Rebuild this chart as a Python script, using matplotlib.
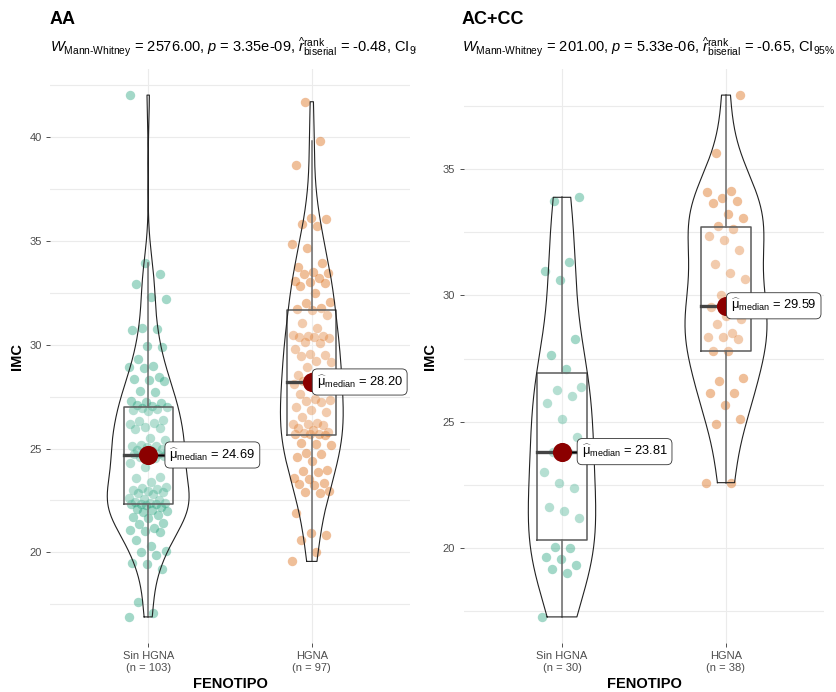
import numpy as np
import matplotlib
matplotlib.use('Agg')
import matplotlib.pyplot as plt
from matplotlib.transforms import Bbox, TransformedBbox

plt.rcParams['font.family'] = ['Liberation Sans', 'DejaVu Sans']
plt.rcParams['mathtext.fontset'] = 'custom'
plt.rcParams['mathtext.rm'] = 'Liberation Sans'
plt.rcParams['mathtext.it'] = 'Liberation Sans:italic'
plt.rcParams['mathtext.bf'] = 'Liberation Sans:bold'

# IMC por fenotipo, genotipo AA
aa_sin = [16.9, 17.1, 17.6, 19.2, 19.45, 19.5, 19.9, 20.0, 20.05, 20.3, 20.6, 21.0,
          21.05, 21.1, 21.2, 21.35, 21.4, 21.65, 21.7, 21.8, 21.95, 22.0, 22.05, 22.1,
          22.2, 22.3, 22.32, 22.33, 22.35, 22.38, 22.4, 22.45, 22.5, 22.55, 22.6, 22.8,
          22.85, 22.9, 22.95, 23.0, 23.05, 23.1, 23.15, 23.4, 23.6, 23.65, 24.1, 24.3,
          24.55, 24.6, 24.65, 24.69, 24.72, 24.75, 24.8, 24.85, 24.9, 24.95, 25.0, 25.05,
          25.1, 25.1, 25.15, 25.4, 25.5, 25.95, 26.0, 26.05, 26.2, 26.25, 26.3, 26.35,
          26.8, 26.85, 26.9, 26.95, 27.0, 27.04, 27.1, 27.2, 27.25, 27.3, 27.7, 27.75,
          28.25, 28.3, 28.35, 28.45, 28.85, 28.9, 28.95, 29.3, 29.9, 29.95, 30.7, 30.75,
          30.8, 32.2, 32.3, 32.9, 33.4, 33.9, 42.0]
aa_hgna = [19.57, 20.0, 20.6, 20.85, 20.95, 21.9, 22.85, 22.9, 22.95, 23.25, 23.3, 23.35,
           23.55, 23.6, 23.85, 23.9, 23.95, 24.4, 24.6, 24.75, 24.8, 25.15, 25.2, 25.25,
           25.67, 25.68, 25.7, 25.72, 25.75, 25.8, 25.9, 26.0, 26.15, 26.18, 26.2, 26.25,
           26.5, 26.75, 26.85, 27.0, 27.25, 27.3, 27.35, 27.4, 27.6, 27.95, 28.0, 28.1,
           28.2, 28.25, 28.35, 28.5, 28.55, 28.6, 28.9, 29.18, 29.22, 29.45, 29.5, 29.55,
           29.8, 30.08, 30.12, 30.3, 30.35, 30.38, 30.4, 30.42, 30.45, 30.8, 31.06, 31.4,
           31.68, 31.7, 31.75, 32.0, 32.05, 32.5, 32.8, 32.95, 33.0, 33.05, 33.2, 33.4,
           33.45, 33.5, 33.75, 33.9, 34.66, 34.85, 35.7, 35.8, 36.05, 36.1, 38.65, 39.8,
           41.68]
# IMC por fenotipo, genotipos AC+CC
accc_sin = [17.26, 19.0, 19.17, 19.33, 19.56, 19.64, 20.0, 20.04, 21.19, 21.47, 21.63,
            22.38, 22.58, 23.02, 23.81, 23.81, 24.4, 25.1, 25.75, 26.03, 26.27, 26.39,
            27.1, 27.62, 28.29, 30.63, 30.95, 31.31, 33.73, 33.89]
accc_hgna = [22.58, 22.58, 24.92, 25.12, 25.67, 26.15, 26.15, 26.59, 26.71, 27.78, 27.78,
             28.29, 28.37, 28.37, 28.53, 28.85, 29.05, 29.17, 29.54, 29.64, 30.0, 30.67,
             30.87, 31.23, 31.79, 32.18, 32.34, 32.62, 32.74, 33.06, 33.21, 33.65, 33.73,
             33.85, 34.08, 34.13, 35.63, 37.94]

groups = ['Sin HGNA', 'HGNA']
titles = ['AA', 'AC+CC']
w_stat = ['2576.00', '201.00']
p_val = ['3.35e-09', '5.33e-06']
r_rank = ['-0.48', '-0.65']

colors = ['#1B9E77', '#D95F02']
grid_c = '#EBEBEB'
txt_c = '#4D4D4D'


def violin_curve(vals, n=512):
    v = np.asarray(vals, dtype=float)
    q1, q3 = np.percentile(v, [25, 75])
    bw = 0.9 * min(v.std(ddof=1), (q3 - q1) / 1.34) * len(v) ** -0.2
    ys = np.linspace(v.min(), v.max(), n)
    z = (ys[:, None] - v[None, :]) / bw
    dens = np.exp(-0.5 * z ** 2).sum(axis=1) / (len(v) * bw * np.sqrt(2 * np.pi))
    return ys, dens


def draw_panel(ax, data, label_dx):
    allv = np.concatenate([np.asarray(d, float) for d in data])
    lo, hi = allv.min(), allv.max()
    pad = (hi - lo) * 0.05
    ax.set_xlim(0.4, 2.6)
    ax.set_ylim(lo - pad, hi + pad)

    curves = [violin_curve(d) for d in data]
    dmax = max(c[1].max() for c in curves)

    for i, vals in enumerate(data):
        x0 = i + 1
        v = np.asarray(vals, float)
        n = len(v)
        # deterministic horizontal spread of the points
        off = ((np.arange(n) * 0.6180339887) % 1.0 - 0.5) * 0.24
        ax.scatter(x0 + off, v, s=46, color=colors[i], alpha=0.4, lw=0, zorder=2)

        # boxplot
        q1, med, q3 = np.percentile(v, [25, 50, 75])
        iqr = q3 - q1
        wlo = v[v >= q1 - 1.5 * iqr].min()
        whi = v[v <= q3 + 1.5 * iqr].max()
        bw = 0.15
        ax.fill_between([x0 - bw, x0 + bw], q1, q3, color='white', alpha=0.2, zorder=3)
        ax.plot([x0 - bw, x0 + bw, x0 + bw, x0 - bw, x0 - bw], [q1, q1, q3, q3, q1],
                color='#5A5A5A', lw=1.1, zorder=3)
        ax.plot([x0, x0], [q3, whi], color='#6A6A6A', lw=1.1, zorder=3)
        ax.plot([x0, x0], [wlo, q1], color='#6A6A6A', lw=1.1, zorder=3)
        ax.plot([x0 - bw, x0 + bw], [med, med], color='#444444', lw=2.4, zorder=3)

        # violin
        ys, dens = curves[i]
        hw = 0.25 * dens / dmax
        ax.plot(np.concatenate([x0 - hw, (x0 + hw)[::-1], [x0 - hw[0]]]),
                np.concatenate([ys, ys[::-1], [ys[0]]]),
                color='#222222', lw=0.8, zorder=3)

        # median point and label
        ax.scatter([x0], [med], s=190, color='#8B0000', lw=0, zorder=5)
        lx = x0 + label_dx[i]
        ax.plot([x0, lx], [med, med], color='black', lw=0.7, zorder=4)
        ax.text(lx + 0.02, med,
                r'$\widehat{\mathrm{\mu}}_{\mathrm{median}}$ = ' + f'{med:.2f}',
                ha='left', va='center', fontsize=9.3, color='black', zorder=6,
                bbox=dict(boxstyle='round,pad=0.35,rounding_size=0.4', fc='white',
                          ec='#333333', lw=0.6))

    major = np.arange(15, 45, 5)
    ax.set_yticks(major)
    ax.set_yticks(major + 2.5, minor=True)
    ax.set_ylim(lo - pad, hi + pad)
    ax.set_xticks([1, 2])
    ax.set_xticklabels([f'{g}\n(n = {len(d)})' for g, d in zip(groups, data)])
    ax.grid(True, which='both', axis='y', color=grid_c, lw=0.8)
    ax.grid(True, which='major', axis='x', color=grid_c, lw=0.8)
    ax.set_axisbelow(True)
    for s in ax.spines.values():
        s.set_visible(False)
    ax.tick_params(axis='both', which='major', length=3, color='#333333', width=0.6,
                   labelsize=8, labelcolor=txt_c, pad=3)
    ax.tick_params(axis='y', which='minor', length=0)
    ax.set_xlabel('FENOTIPO', fontsize=10.5, fontweight='bold', labelpad=3)
    ax.set_ylabel('IMC', fontsize=10.5, fontweight='bold', labelpad=4)


fig = plt.figure(figsize=(8.36, 6.92), dpi=100)
W, H = 836, 692
ax1 = fig.add_axes([50 / W, 49 / H, 360 / W, 574 / H])
ax2 = fig.add_axes([463.6 / W, 49 / H, 360.8 / W, 574 / H])

draw_panel(ax1, [aa_sin, aa_hgna], [0.11, 0.01])
draw_panel(ax2, [accc_sin, accc_hgna], [0.10, 0.01])

lefts = [50 / W, 462 / W]
clips = [416 / W, 1.0]
for k in range(2):
    fig.text(lefts[k], 1 - 20 / H, titles[k], fontsize=13, fontweight='bold',
             ha='left', va='center')
    sub = (r'$W_{\mathrm{Mann\text{-}Whitney}}$ = ' + w_stat[k] + ', $p$ = ' + p_val[k]
           + r', $\widehat{r}_{\mathrm{biserial}}^{\mathrm{rank}}$ = ' + r_rank[k]
           + r', CI$_{95\%}$')
    t = fig.text(lefts[k], 1 - 47 / H, sub, fontsize=10.5, ha='left', va='center')
    t.set_clip_on(True)
    t.set_clip_box(TransformedBbox(Bbox.from_extents(0, 0, clips[k], 1), fig.transFigure))

fig.savefig('out.png', dpi=100, facecolor='white')
